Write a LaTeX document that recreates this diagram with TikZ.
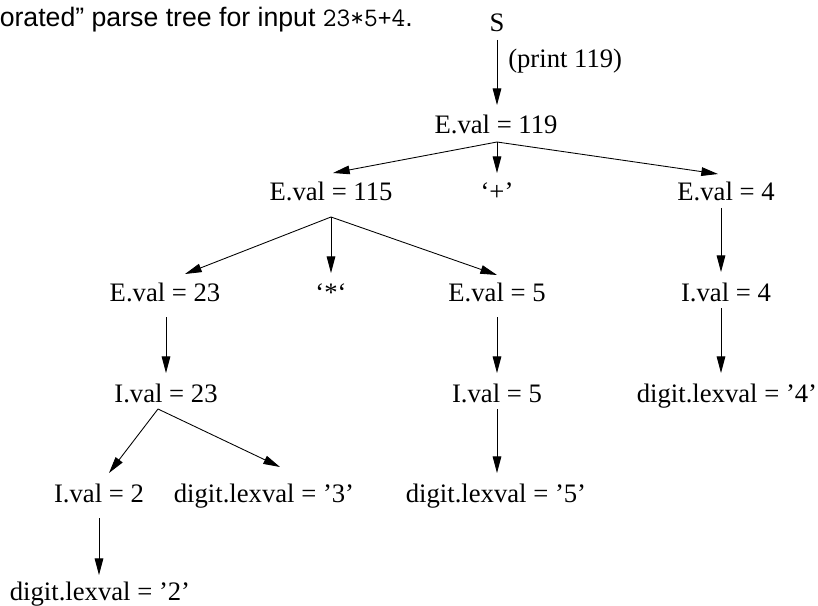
\documentclass[tikz,border=0pt]{standalone}
\usepackage{fontspec}
\setmainfont{Liberation Serif}
\newfontfamily\capsans{Liberation Sans}
\usetikzlibrary{arrows.meta,calc}
\begin{document}
\begin{tikzpicture}[x=0.75pt,y=-0.75pt,
  lab/.style={anchor=base,inner sep=0pt,font=\fontsize{20}{24}\selectfont},
  arr/.style={draw,line width=0.65pt,-{Triangle[length=12.5pt,width=6.5pt]}}]
\useasboundingbox (0,0) rectangle (818,606);
\node[anchor=base east,inner sep=0pt,font=\capsans\fontsize{20}{24}\selectfont] (cap) at (413,27) {orated” parse tree for input \texttt{23*5+4}.};
\node[lab] (S) at (497,32) {S};
\node[lab,anchor=base west] (pr) at (508,68) {(print 119)};
\node[lab] (E119) at (496,134) {E.val = 119};
\node[lab] (E115) at (331,201) {E.val = 115};
\node[lab] (plus) at (497,201) {‘+’};
\node[lab] (E4) at (726,201) {E.val = 4};
\node[lab] (E23) at (165,301) {E.val = 23};
\node[lab] (star) at (331,301) {‘*‘};
\node[lab] (E5) at (497,301) {E.val = 5};
\node[lab] (I4) at (726,301) {I.val = 4};
\node[lab] (I23) at (166,402) {I.val = 23};
\node[lab] (I5) at (497,402) {I.val = 5};
\node[lab] (d4) at (727,402) {digit.lexval = ’4’};
\node[lab] (I2) at (99,502) {I.val = 2};
\node[lab] (d3) at (264,502) {digit.lexval = ’3’};
\node[lab] (d5) at (496,502) {digit.lexval = ’5’};
\node[lab] (d2) at (100,600) {digit.lexval = ’2’};
% apexes
\coordinate (a119) at ($(E119.base)+(1,8)$);
\coordinate (a115) at ($(E115.base)+(0,16)$);
\coordinate (a23) at ($(I23.base)+(-8,7)$);
% connectors
\draw[arr] ($(S.base)+(0,8)$) -- ($(E119.base)+(1,-29)$);
\draw[arr] (a119) -- ($(E115.base)+(2,-28)$);
\draw[arr] (a119) -- ($(plus.base)+(0,-28)$);
\draw[arr] (a119) -- ($(E4.base)+(-8,-27)$);
\draw[arr] (a115) -- ($(E23.base)+(20,-27)$);
\draw[arr] (a115) -- ($(star.base)+(0,-28)$);
\draw[arr] (a115) -- ($(E5.base)+(0,-26)$);
\draw[arr] ($(E23.base)+(1,16)$) -- ($(I23.base)+(0,-29)$);
\draw[arr] ($(E5.base)+(0,16)$) -- ($(I5.base)+(0,-29)$);
\draw[arr] ($(E4.base)+(-5,7)$) -- ($(I4.base)+(-5,-29)$);
\draw[arr] ($(I4.base)+(-5,7)$) -- ($(d4.base)+(-6,-29)$);
\draw[arr] ($(I5.base)+(0,7)$) -- ($(d5.base)+(1,-29)$);
\draw[arr] (a23) -- ($(I2.base)+(10,-29)$);
\draw[arr] (a23) -- ($(d3.base)+(16,-35)$);
\draw[arr] ($(I2.base)+(0,16)$) -- ($(d2.base)+(-1,-25)$);
\end{tikzpicture}
\end{document}
